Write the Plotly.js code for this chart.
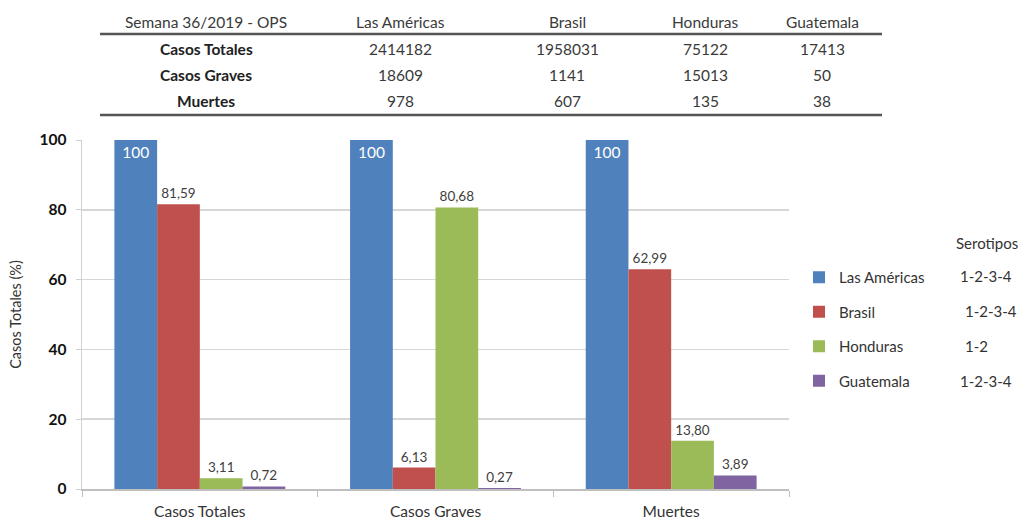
<!DOCTYPE html>
<html>
<head>
<meta charset="utf-8">
<script src="https://cdn.plot.ly/plotly-3.0.1.min.js"></script>
<style>html,body{margin:0;padding:0;background:#fff;}#chart{width:1028px;height:522px;}</style>
</head>
<body>
<div id="chart"></div>
<script>
// ---- data ----
const categories = ['Casos Totales', 'Casos Graves', 'Muertes'];
const seriesNames = ['Las Américas', 'Brasil', 'Honduras', 'Guatemala'];
const lasAmericas = [100, 100, 100];
const brasil = [81.59, 6.13, 62.99];
const honduras = [3.11, 80.68, 13.80];
const guatemala = [0.72, 0.27, 3.89];
const serotipos = ['1-2-3-4', '1-2-3-4', '1-2', '1-2-3-4'];
const yTicks = [0, 20, 40, 60, 80, 100];

const tableHeader = ['Semana 36/2019 - OPS', 'Las Américas', 'Brasil', 'Honduras', 'Guatemala'];
const tableRowLabels = ['Casos Totales', 'Casos Graves', 'Muertes'];
const tableLasAmericas = [2414182, 18609, 978];
const tableBrasil = [1958031, 1141, 607];
const tableHonduras = [75122, 15013, 135];
const tableGuatemala = [17413, 50, 38];

// ---- layout helpers (pixel -> paper) ----
const W = 1028, H = 522;
const L = 82, R = 789, T = 140, B = 489;
const px = x => (x - L) / (R - L);
const py = y => (B - y) / (B - T);

const colors = ['#4F81BD', '#C0504D', '#9BBB59', '#8064A2'];
const seriesVals = [lasAmericas, brasil, honduras, guatemala];
const fmt = v => (v === 100 ? '100' : v.toFixed(2).replace('.', ','));

const font = 'Lato, "Liberation Sans", sans-serif';

const traces = seriesVals.map((vals, i) => ({
  type: 'bar',
  name: seriesNames[i],
  x: categories,
  y: vals,
  marker: {color: colors[i]},
  text: vals.map(fmt),
  textposition: i === 0 ? 'inside' : 'outside',
  insidetextanchor: 'end',
  constraintext: 'none',
  cliponaxis: false,
  textfont: i === 0 ? {color: '#ffffff', size: 15.5, family: font}
                    : {color: '#404040', size: 13.5, family: font},
  hoverinfo: 'skip',
  legendgroup: 'g' + i
}));

const annotations = [];
const shapes = [];

// table columns (pixel centers)
const colX = [206, 400, 567, 705, 822];
const headerY = 22, rowY = [49, 75, 101];
tableHeader.forEach((h, c) => annotations.push({
  xref: 'paper', yref: 'paper', x: px(colX[c]), y: py(headerY), text: h,
  showarrow: false, xanchor: 'center', yanchor: 'middle',
  font: {family: font, size: 15.5, color: '#3a3a3a'}
}));
const tableCols = [tableLasAmericas, tableBrasil, tableHonduras, tableGuatemala];
tableRowLabels.forEach((lab, r) => {
  annotations.push({
    xref: 'paper', yref: 'paper', x: px(colX[0]), y: py(rowY[r]), text: '<b>' + lab + '</b>',
    showarrow: false, xanchor: 'center', yanchor: 'middle',
    font: {family: font, size: 15.5, color: '#222'}
  });
  tableCols.forEach((col, c) => annotations.push({
    xref: 'paper', yref: 'paper', x: px(colX[c + 1]), y: py(rowY[r]), text: String(col[r]),
    showarrow: false, xanchor: 'center', yanchor: 'middle',
    font: {family: font, size: 15.5, color: '#3a3a3a'}
  }));
});
[34, 115].forEach(yy => shapes.push({
  type: 'line', xref: 'paper', yref: 'paper',
  x0: px(100), x1: px(882), y0: py(yy), y1: py(yy),
  line: {color: '#555', width: 2.5}
}));

// Serotipos column
annotations.push({
  xref: 'paper', yref: 'paper', x: px(954), y: py(243), text: 'Serotipos',
  showarrow: false, xanchor: 'left', yanchor: 'middle',
  font: {family: font, size: 15, color: '#333'}
});
const seroY = [276, 311, 346, 381];
const seroX = [958, 963, 963, 958];
serotipos.forEach((s, i) => annotations.push({
  xref: 'paper', yref: 'paper', x: px(seroX[i]), y: py(seroY[i]), text: s,
  showarrow: false, xanchor: 'left', yanchor: 'middle',
  font: {family: font, size: 15, color: '#333'}
}));

const layout = {
  width: W, height: H,
  margin: {l: L, r: W - R, t: T, b: H - B, pad: 0},
  paper_bgcolor: '#fff', plot_bgcolor: '#fff',
  barmode: 'group', bargap: 0.275, bargroupgap: 0,
  font: {family: font, color: '#333'},
  separators: ',.',
  showlegend: true,
  legend: {
    x: px(799), y: py(261), xanchor: 'left', yanchor: 'top',
    font: {family: font, size: 15, color: '#333'},
    traceorder: 'grouped', tracegroupgap: 12,
    bgcolor: 'rgba(0,0,0,0)', itemclick: false
  },
  xaxis: {
    type: 'category', automargin: false,
    showgrid: false, showline: true, linecolor: '#bfbfbf', linewidth: 1.5,
    ticks: 'outside', tickson: 'boundaries', ticklen: 6, tickcolor: '#bfbfbf',
    ticklabelstandoff: 8,
    tickfont: {family: font, size: 15.5, color: '#333'}, fixedrange: true
  },
  yaxis: {
    range: [0, 100], tickvals: yTicks, automargin: false,
    showgrid: true, gridcolor: '#d6d6d6', gridwidth: 1.5,
    zeroline: false, showline: true, linecolor: '#d0d0d0', linewidth: 1.5,
    ticks: 'outside', ticklen: 5, tickcolor: '#d0d0d0',
    ticklabelstandoff: 6,
    tickfont: {family: font, size: 15.5, color: '#111', weight: 'bold'},
    title: {text: 'Casos Totales (%)', font: {family: font, size: 14.5, color: '#333'}, standoff: 14},
    fixedrange: true
  },
  annotations: annotations,
  shapes: shapes
};

Plotly.newPlot('chart', traces, layout, {displayModeBar: false, staticPlot: true});
</script>
</body>
</html>
